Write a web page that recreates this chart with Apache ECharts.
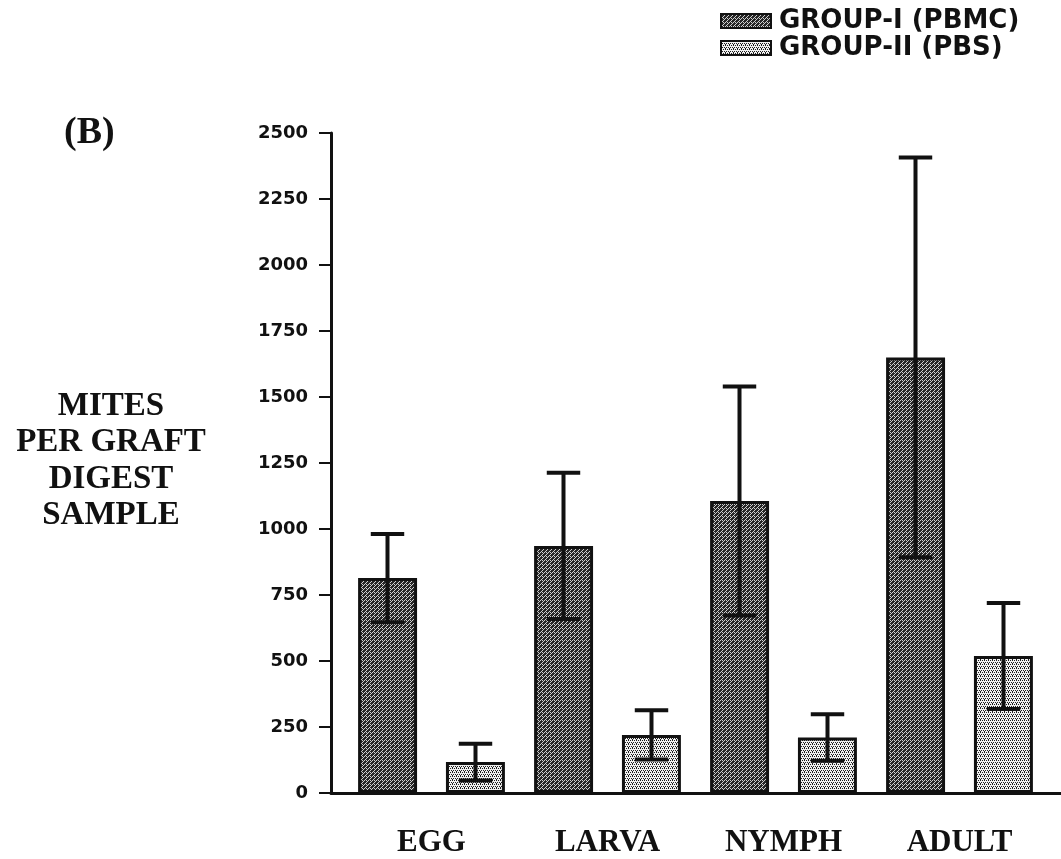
<!DOCTYPE html>
<html>
<head>
<meta charset="utf-8">
<script src="https://cdn.jsdelivr.net/npm/echarts@6/dist/echarts.min.js"></script>
<style>
  html, body { margin: 0; padding: 0; background: #fff; }
  #chart { width: 1061px; height: 859px; }
</style>
</head>
<body>
<div id="chart"></div>
<script>
// values
const stages = ["EGG", "LARVA", "NYMPH", "ADULT"];
const groupNames = ["GROUP-I (PBMC)", "GROUP-II (PBS)"];
const pbmcMean = [814, 936, 1106, 1650];
const pbmcErr = [167, 277, 434, 757];
const pbsMean = [117, 220, 210, 519];
const pbsErr = [70, 93, 88, 201];
const yTicks = { min: 0, max: 2500, step: 250 };

// scanned-looking fill textures
function makeTile(bg, fg, dots) {
  const c = document.createElement("canvas");
  c.width = 4; c.height = 4;
  const g = c.getContext("2d");
  g.fillStyle = bg;
  g.fillRect(0, 0, 4, 4);
  g.fillStyle = fg;
  dots.forEach(d => g.fillRect(d[0], d[1], 1, 1));
  return c;
}
const darkTile = makeTile("#262626", "#cfcfcf", [[0, 0], [2, 2], [1, 3], [3, 1], [2, 0]]);
const lightTile = makeTile("#f0f0f0", "#1e1e1e", [[0, 0], [2, 0], [1, 2], [3, 2], [0, 3]]);

const chart = echarts.init(document.getElementById("chart"));

function errorBars(means, errs, side) {
  return means.map((m, i) => [i, m, errs[i], side]);
}

function renderErr(params, api) {
  const cat = api.value(0);
  const mean = api.value(1);
  const err = api.value(2);
  const side = api.value(3);
  const band = api.size([1, 0])[0];
  const x = api.coord([cat, 0])[0] + side * band * 0.25;
  const yHi = api.coord([cat, mean + err])[1];
  const yLo = api.coord([cat, mean - err])[1];
  const cap = band * 0.19 / 2;
  const style = { stroke: "#111", lineWidth: 4 };
  return {
    type: "group",
    children: [
      { type: "line", shape: { x1: x, y1: yHi, x2: x, y2: yLo }, style: style },
      { type: "line", shape: { x1: x - cap, y1: yHi, x2: x + cap, y2: yHi }, style: style },
      { type: "line", shape: { x1: x - cap, y1: yLo, x2: x + cap, y2: yLo }, style: style }
    ]
  };
}

const option = {
  backgroundColor: "#fff",
  animation: false,
  title: [
    {
      text: "(B)",
      left: 64, top: 114, padding: 0,
      textStyle: { fontFamily: "Liberation Serif", fontWeight: "bold", fontSize: 38, color: "#111" }
    },
    {
      text: "MITES\nPER GRAFT\nDIGEST\nSAMPLE",
      left: 111, top: 388, padding: 0, textAlign: "center",
      textStyle: { fontFamily: "Liberation Serif", fontWeight: "bold", fontSize: 33, lineHeight: 36.5, color: "#111" }
    }
  ],
  legend: {
    orient: "vertical",
    left: 720, top: 8, padding: 0,
    icon: "rect",
    itemWidth: 50, itemHeight: 14, itemGap: 1,
    data: groupNames,
    textStyle: { fontFamily: "DejaVu Sans", fontWeight: "bold", fontSize: 26, lineHeight: 26, color: "#111", padding: [0, 0, 0, 3] }
  },
  grid: [
    { left: 343.5, right: 13.5, top: 133, bottom: 66 },
    { left: 331, right: 0, top: 133, bottom: 66 }
  ],
  xAxis: [
    {
      type: "category", gridIndex: 0, data: stages,
      axisLine: { show: false }, axisTick: { show: false },
      axisLabel: { margin: 34, fontFamily: "Liberation Serif", fontWeight: "bold", fontSize: 31, color: "#111" }
    },
    {
      type: "value", gridIndex: 1, min: 0, max: 1,
      axisLine: { show: true, onZero: false, lineStyle: { color: "#111", width: 3 } },
      axisTick: { show: false }, axisLabel: { show: false }, splitLine: { show: false }
    }
  ],
  yAxis: [
    {
      type: "value", gridIndex: 0, min: yTicks.min, max: yTicks.max, interval: yTicks.step,
      offset: 12.5,
      axisLine: { show: true, lineStyle: { color: "#111", width: 3 } },
      axisTick: { show: true, length: 12, lineStyle: { color: "#111", width: 2 } },
      axisLabel: {
        margin: 23, fontFamily: "DejaVu Sans", fontWeight: "bold", fontSize: 18, color: "#111",
        formatter: v => String(v)
      },
      splitLine: { show: false }
    },
    { type: "value", gridIndex: 1, min: 0, max: 1, show: false }
  ],
  series: [
    {
      name: groupNames[0], type: "bar", data: pbmcMean,
      barWidth: "33.5%", barGap: "49%",
      itemStyle: { color: { image: darkTile, repeat: "repeat" }, borderColor: "#111", borderWidth: 3 }
    },
    {
      name: groupNames[1], type: "bar", data: pbsMean,
      barWidth: "33.5%", barGap: "49%",
      itemStyle: { color: { image: lightTile, repeat: "repeat" }, borderColor: "#111", borderWidth: 3 }
    },
    {
      type: "custom", data: errorBars(pbmcMean, pbmcErr, -1),
      renderItem: renderErr, z: 5, silent: true
    },
    {
      type: "custom", data: errorBars(pbsMean, pbsErr, 1),
      renderItem: renderErr, z: 5, silent: true
    }
  ]
};

chart.setOption(option);
</script>
</body>
</html>
